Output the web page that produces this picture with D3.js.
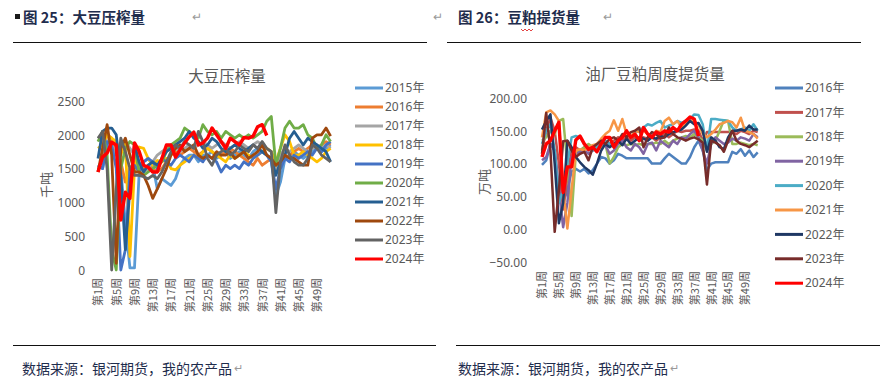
<!DOCTYPE html>
<html><head><meta charset="utf-8">
<script src="https://cdn.jsdelivr.net/npm/d3@7"></script>
<style>
body{margin:0;background:#fff;}
svg{display:block;}
text{font-family:"Noto Sans","Noto Sans CJK SC",sans-serif;}
.cjk{font-family:"Noto Sans CJK SC",sans-serif;}
</style></head>
<body>
<svg id="c" width="886" height="389"></svg>
<script>
// ---------- DATA ----------
const weeks = d3.range(1, 53).map(w => "第" + w + "周");
const weekTickLabels = ["第1周","第5周","第9周","第13周","第17周","第21周","第25周","第29周","第33周","第37周","第41周","第45周","第49周"];

// Left chart: 大豆压榨量 (千吨)
const leftYears = ["2015年","2016年","2017年","2018年","2019年","2020年","2021年","2022年","2023年","2024年"];
const leftTicks = [0, 500, 1000, 1500, 2000, 2500];
const crush2015 = [1550,1500,1800,1900,1850,1500,700,30,30,1400,1600,1650,1550,1200,1350,1300,1250,1350,1550,1650,1700,1700,1600,1700,1700,1750,1650,1700,1750,1650,1700,1750,1700,1650,1750,1800,1750,1700,1600,1100,1300,1650,1700,1750,1700,1650,1700,1750,1800,1750,1800,1850];
const crush2016 = [1450,1700,2000,1950,1800,1600,1300,1500,1600,1450,1500,1550,1500,1450,1500,1600,1700,1750,1700,1750,1800,1750,1700,1750,1800,1750,1700,1700,1750,1800,1750,1700,1650,1600,1550,1650,1550,1600,1650,1450,1600,1650,1700,1750,1800,1750,1800,1850,1800,1850,1900,1850];
const crush2017 = [1950,2000,1900,1850,1700,1850,1900,1800,1700,1500,1450,1500,1600,1700,1750,1800,1850,1800,1750,1800,1850,1800,1850,1900,1850,1800,1850,1900,1850,1800,1850,1900,1850,1800,1850,1900,1850,1800,1750,1500,1700,1800,1750,1800,1850,1800,1750,1800,1850,1800,1850,1800];
const crush2018 = [1800,1850,2000,1950,1900,1700,1900,200,1500,1820,1800,1650,1550,1620,1600,1650,1500,1480,1550,1600,1650,1700,1650,1750,1800,1750,1700,1650,1600,1700,1650,1700,1750,1700,1650,1700,1750,1800,1750,1600,1800,2000,1900,1700,1700,1750,1700,1650,1600,1650,1750,1800];
const crush2019 = [1550,1500,1900,1850,1500,0,300,1500,1550,1450,1600,1650,1600,1500,1650,1600,1550,1650,1700,1650,1600,1700,1650,1600,1700,1650,1600,1450,1550,1500,1550,1500,1600,1550,1650,1700,1750,1700,1600,1200,1500,1650,1600,1700,1650,1700,1750,1700,1800,1750,1850,1900];
const crush2020 = [1900,2050,1700,300,0,1500,1800,1900,1850,1450,1400,1450,1500,1550,1600,1750,1850,1900,1950,2100,2050,2000,1950,2150,2050,2000,2050,1950,2050,2000,1950,2000,1950,2000,1950,2000,2050,2200,2270,1550,1800,2100,2200,2100,2100,2150,2000,1950,1800,1850,2000,1900];
const crush2021 = [1650,2050,2100,2100,2000,1400,300,1200,1850,1600,1450,1550,1600,1550,1650,1750,1800,1850,1900,1950,2050,1950,1900,1800,1850,1950,1900,1800,1750,1800,1850,1800,1750,1800,1850,1800,1750,1700,1650,1400,1600,1700,1950,2050,1950,1850,1950,1900,1850,1800,1750,1600];
const crush2022 = [1450,1800,2150,1700,100,1800,1950,1700,1450,1450,1400,1250,1060,1200,1350,1500,1700,1800,1850,1750,1800,1850,1700,1650,1700,1650,1750,1700,1700,1750,1650,1700,1750,1650,1700,1750,1850,1700,1650,1550,1600,1700,1650,1650,1600,1550,1550,1950,2000,2000,2100,1980];
const crush2023 = [1950,2050,1500,0,1200,1950,1750,1500,1400,1400,1380,1350,1400,1350,1450,1600,1750,1850,1800,1900,1850,1800,2050,1900,1650,1550,1700,1750,1800,1700,1750,1850,1800,1750,1850,1800,1900,1800,1750,850,1600,1850,1700,1600,1550,1550,1650,1850,1800,1700,1650,1600];
const crush2024 = [1450,1670,1730,1890,1850,740,1150,1060,1880,1760,1550,1520,1450,1450,1650,1850,1850,1670,1780,1880,1970,2040,1850,1880,1950,2100,2000,1900,1800,1950,1900,1850,1960,1950,1980,2120,2150,1990];

// Right chart: 油厂豆粕周度提货量 (万吨)
const rightYears = ["2016年","2017年","2018年","2019年","2020年","2021年","2022年","2023年","2024年"];
const rightTicks = [-50, 0, 50, 100, 150, 200];
const pick2016 = [98,105,130,120,60,40,60,88,92,88,92,85,90,100,110,108,100,105,115,112,108,108,108,108,108,108,100,100,100,108,115,110,105,100,100,110,125,135,120,90,100,102,102,102,102,118,115,122,112,120,110,117];
const pick2017 = [120,150,170,150,100,30,80,120,125,120,125,120,125,130,130,135,130,135,140,135,140,135,140,135,140,138,140,135,140,145,140,145,150,148,150,150,152,150,135,148,148,148,148,148,148,148,145,150,148,145,150,148];
const pick2018 = [135,140,150,145,165,168,100,20,115,120,125,130,125,120,125,130,100,110,125,130,128,130,128,130,128,130,130,132,130,135,130,135,138,140,142,140,145,140,135,120,130,135,150,166,165,130,130,132,130,128,130,128];
const pick2019 = [105,110,130,120,60,3,40,110,115,118,120,115,120,125,130,128,115,120,130,135,125,120,130,125,115,130,132,120,135,130,125,135,130,140,138,145,150,140,120,100,130,140,135,130,132,138,135,140,138,135,145,140];
const pick2020 = [130,150,160,120,40,60,100,140,142,140,130,125,120,125,130,135,130,125,135,140,145,140,148,150,155,160,158,162,165,155,158,160,165,162,165,168,175,174,160,120,168,168,167,166,165,155,150,152,155,150,160,150];
const pick2021 = [140,178,181,175,165,60,1,60,120,122,120,125,128,130,138,145,150,166,150,168,145,140,150,148,150,145,140,150,148,165,170,160,165,155,160,165,165,160,145,140,145,152,160,162,165,163,155,170,150,148,145,138];
const pick2022 = [152,165,175,100,9,40,135,125,110,102,95,90,83,100,120,130,125,130,135,128,138,130,135,140,138,135,140,138,142,140,145,148,150,152,158,165,160,162,150,118,140,135,125,122,140,150,150,152,150,158,152,152];
const pick2023 = [115,177,120,-4,60,134,135,120,110,115,118,105,125,130,135,130,138,140,135,145,140,148,150,155,125,140,148,145,138,140,155,145,140,138,135,138,140,137,132,68,135,132,128,118,135,150,135,130,128,125,130,135];
const pick2024 = [110,130,135,150,163,56,95,95,136,142,130,122,125,118,130,140,140,125,135,140,150,140,145,135,155,145,140,148,145,150,148,155,150,160,165,171,168,142];

// ---------- DRAW ----------
const svg = d3.select("#c");
const gray = "#595959";

// header
function header(x0, lineX1, lineX2, label, arrowX, square) {
  if (square) svg.append("rect").attr("x", 15).attr("y", 14).attr("width", 5).attr("height", 5).attr("fill", "#1a1a1a");
  svg.append("text").attr("class","cjk").attr("x", x0).attr("y", 23).attr("font-size", 14.5).attr("font-weight", 700)
    .attr("fill", "#1F2D4D").text(label);
  svg.append("text").attr("x", arrowX).attr("y", 21).attr("font-size", 12).attr("fill", "#999").text("↵");
  svg.append("line").attr("x1", lineX1).attr("x2", lineX2).attr("y1", 42.5).attr("y2", 42.5).attr("stroke", "#111").attr("stroke-width", 1.2);
}
header(23, 13, 427, "图 25：大豆压榨量", 192, true);
header(458, 447, 861, "图 26：豆粕提货量", 603, false);
svg.append("text").attr("x", 433).attr("y", 21).attr("font-size", 12).attr("fill", "#999").text("↵");
// spell-check squiggle under 粕
svg.append("path").attr("d", d3.range(0, 7).map((i) => (i ? "L" : "M") + (521 + i * 2) + "," + (i % 2 ? 31 : 29)).join(""))
  .attr("fill", "none").attr("stroke", "#e03030").attr("stroke-width", 0.9);

// footer
function footer(x1, x2, tx) {
  svg.append("line").attr("x1", x1).attr("x2", x2).attr("y1", 345.5).attr("y2", 345.5).attr("stroke", "#111").attr("stroke-width", 1.2);
  svg.append("text").attr("class","cjk").attr("x", tx).attr("y", 374).attr("font-size", 14).attr("fill", "#1F2D4D").text("数据来源：银河期货，我的农产品");
  svg.append("text").attr("x", tx + 212).attr("y", 372).attr("font-size", 11).attr("fill", "#999").text("↵");
}
footer(13, 436, 22);
footer(456, 880, 458);

function chart(cfg) {
  const x = d3.scalePoint().domain(weeks).range(cfg.xr);
  const y = d3.scaleLinear().domain(cfg.yd).range(cfg.yr);
  const g = svg.append("g");
  // title
  g.append("text").attr("class","cjk").attr("x", cfg.titleX).attr("y", cfg.titleY).attr("text-anchor", "middle")
    .attr("font-size", 15.5).attr("fill", gray).text(cfg.title);
  // y axis
  const ya = d3.axisLeft(y).tickValues(cfg.ticks).tickSize(0).tickFormat(cfg.fmt);
  const yg = g.append("g").attr("transform", `translate(${cfg.yLabelX},0)`).call(ya);
  yg.select(".domain").remove();
  yg.selectAll("text").attr("font-size", 12).attr("fill", gray).attr("x", 0).attr("dy", "0.35em");
  // y title
  g.append("text").attr("class","cjk").attr("transform", `translate(${cfg.yTitleX},${cfg.yTitleY}) rotate(-90)`)
    .attr("text-anchor", "middle").attr("dy", "0.35em").attr("font-size", 13).attr("fill", gray).text(cfg.yTitle);
  // x axis
  const xa = d3.axisBottom(x).tickValues(weekTickLabels).tickSize(0);
  const xg = g.append("g").attr("transform", `translate(0,${cfg.xLabelY})`).call(xa);
  xg.select(".domain").remove();
  xg.selectAll("text").attr("class","cjk").attr("font-size", 11).attr("fill", gray)
    .attr("transform", "rotate(-90)").attr("text-anchor", "end").attr("x", 0).attr("y", 0).attr("dy", "0.35em");
  // lines
  const line = d3.line().defined(d => d != null).x((d, i) => x(weeks[i])).y(d => y(d));
  cfg.series.forEach((s, k) => {
    g.append("path").datum(s).attr("d", line).attr("fill", "none").attr("stroke", cfg.colors[k])
      .attr("stroke-width", k === cfg.series.length - 1 ? 3.4 : cfg.sw).attr("stroke-linejoin", "round");
  });
  // legend
  cfg.years.forEach((yr, k) => {
    const ly = cfg.legY + k * cfg.legStep;
    g.append("line").attr("x1", cfg.legX).attr("x2", cfg.legX + 28).attr("y1", ly).attr("y2", ly)
      .attr("stroke", cfg.colors[k]).attr("stroke-width", 3);
    g.append("text").attr("x", cfg.legX + 30).attr("y", ly).attr("dy", "0.35em").attr("font-size", 12)
      .attr("fill", gray).text(yr);
  });
}

chart({
  title: "大豆压榨量", titleX: 227, titleY: 82,
  xr: [98, 330.6], yd: [0, 2500], yr: [270, 101],
  ticks: leftTicks, fmt: d3.format("d"), yLabelX: 85,
  yTitle: "千吨", yTitleX: 46, yTitleY: 185,
  xLabelY: 278,
  series: [crush2015, crush2016, crush2017, crush2018, crush2019, crush2020, crush2021, crush2022, crush2023, crush2024],
  colors: ["#5B9BD5","#ED7D31","#A5A5A5","#FFC000","#4472C4","#70AD47","#255E91","#9E480E","#636363","#FF0000"],
  sw: 2.8, years: leftYears, legX: 355, legY: 88, legStep: 19
});

chart({
  title: "油厂豆粕周度提货量", titleX: 655, titleY: 80,
  xr: [542, 757.7], yd: [-50, 200], yr: [262, 98],
  ticks: rightTicks, fmt: d3.format(".2f"), yLabelX: 527,
  yTitle: "万吨", yTitleX: 484, yTitleY: 182,
  xLabelY: 271,
  series: [pick2016, pick2017, pick2018, pick2019, pick2020, pick2021, pick2022, pick2023, pick2024],
  colors: ["#4F81BD","#C0504D","#9BBB59","#8064A2","#4BACC6","#F79646","#1F3864","#772C2A","#FF0000"],
  sw: 2.5, years: rightYears, legX: 775, legY: 88, legStep: 24.4
});
</script>
</body></html>
